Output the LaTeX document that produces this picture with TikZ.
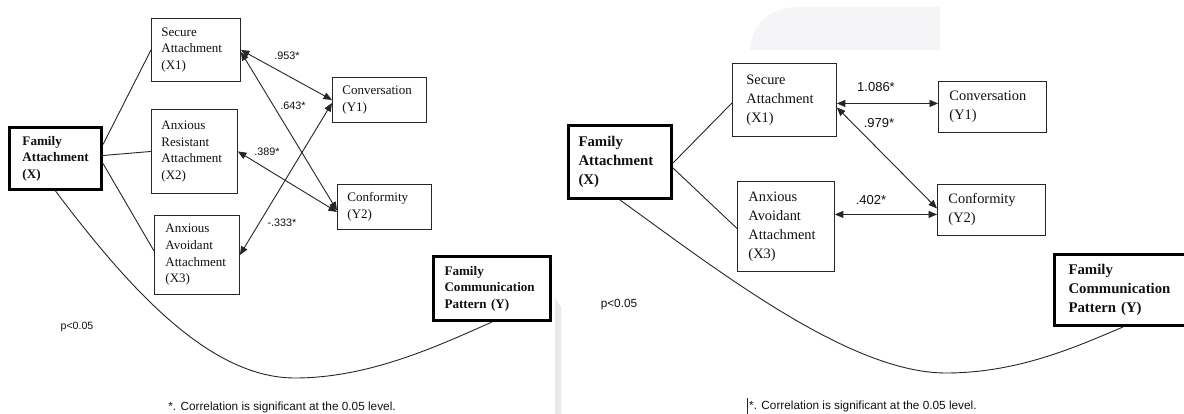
\documentclass[tikz,border=0pt]{standalone}
\usepackage{fontspec}
\setmainfont{Liberation Serif}
\setsansfont{Liberation Sans}
\usepackage{tikz}
\usetikzlibrary{arrows.meta, calc}
\definecolor{mInk}{HTML}{111111}
\definecolor{mLine}{HTML}{262626}
\definecolor{mShade}{HTML}{F5F5F7}
\definecolor{mBand}{HTML}{E9E9EB}
\newcommand{\boxL}{\fontsize{13}{16.7}\selectfont}
\newcommand{\boxR}{\fontsize{14.4}{19}\selectfont}
\newcommand{\keyL}{\bfseries\fontsize{13.1}{16.5}\selectfont}
\newcommand{\keyR}{\bfseries\fontsize{14.8}{18.7}\selectfont}

\begin{document}
\begin{tikzpicture}[x=1pt, y=-1pt,
  var/.style={draw=mLine, line width=0.9pt, rectangle, anchor=north west,
              inner sep=0pt, align=left, text=mInk},
  key/.style={var, draw=black, line width=3pt},
  link/.style={mLine, line width=0.9pt},
  corr/.style={link, {Triangle[length=8.5pt, width=7pt]}-{Triangle[length=8.5pt, width=7pt]}},
  coef/.style={font=\sffamily\fontsize{10.8}{12}\selectfont, text=mInk, inner sep=0pt},
  coefR/.style={font=\sffamily\fontsize{13}{14}\selectfont, text=mInk, inner sep=0pt},
  note/.style={font=\sffamily\fontsize{11.8}{13}\selectfont, text=mInk, inner sep=0pt}]
  \useasboundingbox (0,0) rectangle (1184,414);
  \fill[white] (0,0) rectangle (1184,414);
  \clip (0,0) rectangle (1184,414);
  % faint page marks
  \fill[mShade] (750,50) .. controls (752,22) and (772,7) .. (800,7) -- (940,7) -- (940,50) -- cycle;
  \fill[mBand] (555,298) -- (561,307) -- (561,414) -- (555,414) -- cycle;

  % left model
  \node[key, minimum width=92pt, minimum height=62pt, text width=66pt, font=\keyL] (X) at (8,126)
    {Family\\Attachment\\(X)};
  \node[var, minimum width=89pt, minimum height=63pt, text width=69pt, font=\boxL] (X1) at (151,18)
    {Secure\\Attachment\\(X1)};
  \node[var, minimum width=86pt, minimum height=84pt, text width=66pt, font=\boxL] (X2) at (151,109)
    {Anxious\\Resistant\\Attachment\\(X2)};
  \node[var, minimum width=85pt, minimum height=79pt, text width=63pt, font=\boxL] (X3) at (154,215)
    {Anxious\\Avoidant\\Attachment\\(X3)};
  \node[var, minimum width=94pt, minimum height=45pt, text width=74pt, font=\boxL] (Y1) at (332,77)
    {Conversation\\(Y1)};
  \node[var, minimum width=94pt, minimum height=45pt, text width=74pt, font=\boxL] (Y2) at (337,184)
    {Conformity\\(Y2)};
  \node[key, minimum width=117pt, minimum height=64pt, text width=95pt, font=\keyL] (Y) at (432,255)
    {Family\\Communication\\Pattern (Y)};

  \draw[link] ([yshift=14pt]X.east) -- (X1.west);
  \draw[link] ([yshift=3pt]X.east) -- (X2.west);
  \draw[link] ([yshift=-5pt]X.east) -- ([yshift=4pt]X3.west);
  \draw[link] (X.south) .. controls (130,290) and (210,378) .. (295,378)
    .. controls (370,378) and (440,345) .. (Y.south);

  \draw[corr] (X1.east) -- (Y1.west);
  \draw[corr] ([yshift=-2pt]X1.east) -- ([yshift=-3.5pt]Y2.west);
  \draw[corr] (X2.east) -- ([yshift=-5pt]Y2.west);
  \draw[corr] (X3.east) -- ([yshift=-3pt]Y1.west);
  \node[coef] (c953) at (287,56) {.953*};
  \node[coef] (c643) at (293,106) {.643*};
  \node[coef] (c389) at (267,152) {.389*};
  \node[coef] (c333) at (282,223) {-.333*};

  \node[font=\sffamily\fontsize{10.6}{12}\selectfont, text=mInk, inner sep=0pt] (pL) at (77,327) {p<0.05};
  \node[note] (noteL) at (282,407) {*. Correlation is significant at the 0.05 level.};

  % right model
  \node[key, minimum width=103pt, minimum height=73pt, text width=83pt, font=\keyR] (rX) at (567,124)
    {Family\\Attachment\\(X)};
  \node[var, minimum width=104pt, minimum height=73pt, text width=76pt, font=\boxR] (rX1) at (732,63)
    {Secure\\Attachment\\(X1)};
  \node[var, minimum width=97pt, minimum height=90pt, text width=75pt, font=\boxR] (rX3) at (737,181)
    {Anxious\\Avoidant\\Attachment\\(X3)};
  \node[var, minimum width=108pt, minimum height=51pt, text width=86pt, font=\boxR] (rY1) at (938,81)
    {Conversation\\(Y1)};
  \node[var, minimum width=108pt, minimum height=51pt, text width=86pt, font=\boxR] (rY2) at (937,184)
    {Conformity\\(Y2)};
  \node[key, minimum width=137pt, minimum height=71pt, text width=109pt, font=\keyR] (rY) at (1053,253)
    {Family\\Communication\\Pattern (Y)};

  \draw[link] ([yshift=-1pt]rX.east) -- ([yshift=-3pt]rX1.west);
  \draw[link] ([yshift=-6pt]rX.east) -- ([yshift=-2pt]rX3.west);
  \draw[link] (rX.south) .. controls (720,272) and (850,373) .. (946,373)
    .. controls (1020,373) and (1080,345) .. (rY.south);

  \draw[corr] ([yshift=-3.5pt]rX1.east) -- ([yshift=3.5pt]rY1.west);
  \draw[corr] ([yshift=-7.5pt]rX1.east) -- ([yshift=1.5pt]rY2.west);
  \draw[corr] ([yshift=12pt]rX3.east) -- ([yshift=-4.5pt]rY2.west);
  \node[coefR] (c1086) at (876,87) {1.086*};
  \node[coefR] (c979) at (879,123) {.979*};
  \node[coefR] (c402) at (871,200) {.402*};

  \node[font=\sffamily\fontsize{11.8}{13}\selectfont, text=mInk, inner sep=0pt] (pR) at (619,305) {p<0.05};
  \draw[mLine, line width=0.8pt] (747,398) -- (747,414);
  \node[note, anchor=west] (noteR) at (749,406) {*. Correlation is significant at the 0.05 level.};
\end{tikzpicture}
\end{document}
